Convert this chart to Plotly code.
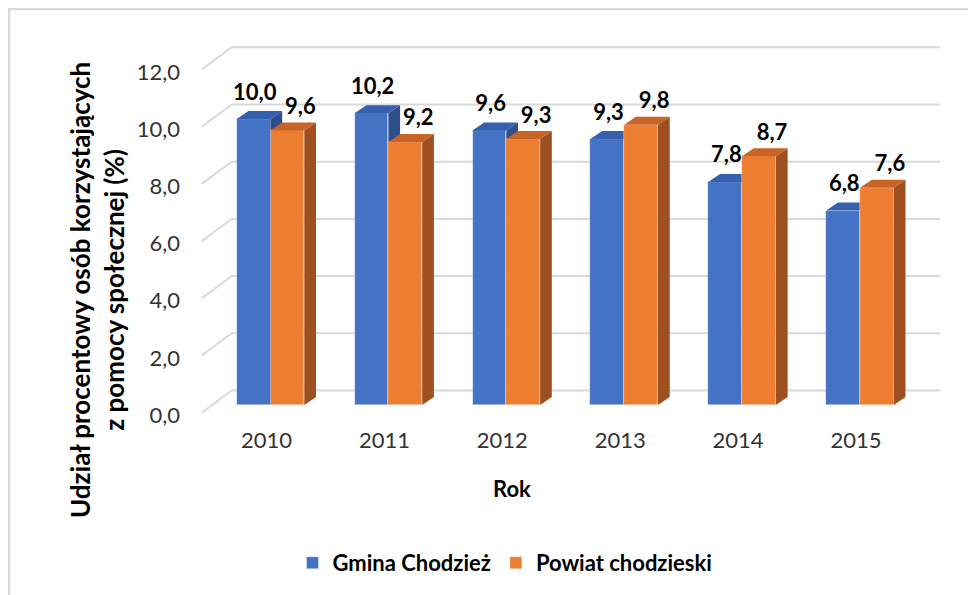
import plotly.graph_objects as go

# ---- data ----
years = ["2010", "2011", "2012", "2013", "2014", "2015"]
gmina = [10.0, 10.2, 9.6, 9.3, 7.8, 6.8]
powiat = [9.6, 9.2, 9.3, 9.8, 8.7, 7.6]
y_ticks = [0, 2, 4, 6, 8, 10, 12]
series_names = ["Gmina Chodzież", "Powiat chodzieski"]

# ---- style / geometry constants (screen-pixel derived) ----
PAGE_OFF = 8                                 # default body margin of the html page
W, H = 976 - PAGE_OFF, 595 - PAGE_OFF


def fx(px):  # screen x -> figure pixel x
    return px - PAGE_OFF


def fy(py):  # screen y -> figure pixel y
    return py - PAGE_OFF


PL, PR, PT, PB = fx(190), fx(960), fy(30), fy(425)   # plot area in figure pixels
PX_X = 117.9                                 # pixels per category
PX_Y = 28.6                                  # pixels per value unit
X0_PX, Y0_PX = fx(270.5), fy(405)            # category 0 centre / value 0 (bar front plane)
BAR_W = 0.2867
DEPTH_DX, DEPTH_DY = 11.7 / PX_X, 8 / PX_Y   # bar depth offset
WALL_FX, WALL_FY = (fx(201.7) - X0_PX) / PX_X, (Y0_PX - fy(412.7)) / PX_Y
WALL_BX, WALL_BY = (fx(231.7) - X0_PX) / PX_X, (Y0_PX - fy(390.5)) / PX_Y
WALL_EX = (fx(940) - X0_PX) / PX_X

xr = [(PL - X0_PX) / PX_X, (PR - X0_PX) / PX_X]
yr = [(Y0_PX - PB) / PX_Y, (Y0_PX - PT) / PX_Y]


def paper_x(px):
    return (fx(px) - PL) / (PR - PL)


def paper_y(py):
    return (PB - fy(py)) / (PB - PT)


BLUE, BLUE_TOP, BLUE_SIDE = "#4472C4", "#3560AE", "#2E4F8C"
ORANGE, ORANGE_TOP, ORANGE_SIDE = "#ED7D31", "#C86426", "#9E5020"
GRID = "#D9D9D9"
FONT = "Lato"

fig = go.Figure()

# gridlines (back wall + left wall diagonals)
gx, gy = [], []
for v in y_ticks:
    gx += [WALL_FX, WALL_BX, WALL_EX, None]
    gy += [v + WALL_FY, v + WALL_BY, v + WALL_BY, None]
fig.add_trace(go.Scatter(x=gx, y=gy, mode="lines", line=dict(color=GRID, width=2),
                         showlegend=False, hoverinfo="skip", xaxis="x", yaxis="y"))


def add_series(values, offset, front, top, side, name, ax, ay):
    xs = [i + offset for i in range(len(values))]
    fig.add_trace(go.Bar(x=xs, y=values, width=BAR_W, name=name,
                         marker=dict(color=front, line=dict(color="rgba(255,255,255,0.6)", width=0.6)),
                         xaxis=ax, yaxis=ay, showlegend=True))
    sx, sy, tx, ty = [], [], [], []
    for xc, v in zip(xs, values):
        xl, xrr = xc - BAR_W / 2, xc + BAR_W / 2
        sx += [xrr, xrr + DEPTH_DX, xrr + DEPTH_DX, xrr, xrr, None]
        sy += [0, DEPTH_DY, v + DEPTH_DY, v, 0, None]
        tx += [xl, xl + DEPTH_DX, xrr + DEPTH_DX, xrr, xl, None]
        ty += [v, v + DEPTH_DY, v + DEPTH_DY, v, v, None]
    fig.add_trace(go.Scatter(x=sx, y=sy, fill="toself", fillcolor=side, mode="lines",
                             line=dict(width=0), showlegend=False, hoverinfo="skip",
                             xaxis=ax, yaxis=ay))
    fig.add_trace(go.Scatter(x=tx, y=ty, fill="toself", fillcolor=top, mode="lines",
                             line=dict(width=0), showlegend=False, hoverinfo="skip",
                             xaxis=ax, yaxis=ay))
    return xs


bx = add_series(gmina, -BAR_W / 2, BLUE, BLUE_TOP, BLUE_SIDE, series_names[0], "x2", "y2")
ox = add_series(powiat, BAR_W / 2, ORANGE, ORANGE_TOP, ORANGE_SIDE, series_names[1], "x3", "y3")

fmt = lambda v: f"{v:.1f}".replace(".", ",")
fig.add_trace(go.Scatter(
    x=[x + 0.01 for x in bx] + [x + 0.11 for x in ox],
    y=[v + DEPTH_DY + 17 / PX_Y for v in gmina] + [v + DEPTH_DY + 14 / PX_Y for v in powiat],
    text=[fmt(v) for v in gmina] + [fmt(v) for v in powiat],
    mode="text", textposition="middle center",
    textfont=dict(family=FONT, size=22, color="#000000", weight="bold"),
    showlegend=False, hoverinfo="skip", xaxis="x3", yaxis="y3"))

hidden = dict(range=xr, visible=False, fixedrange=True)
fig.update_layout(
    width=W, height=H,
    margin=dict(l=PL, r=W - PR, t=PT, b=H - PB, autoexpand=False),
    paper_bgcolor="white", plot_bgcolor="rgba(0,0,0,0)",
    barmode="overlay", bargap=0,
    font=dict(family=FONT, size=22, color="#333333"),
    xaxis=dict(range=xr, tickmode="array", tickvals=list(range(len(years))), ticktext=years,
               showgrid=False, zeroline=False, showline=False, ticks="", fixedrange=True,
               ticklabelshift=-4, tickfont=dict(family=FONT, size=22, color="#333333")),
    yaxis=dict(range=yr, tickmode="array", tickvals=y_ticks, ticktext=[fmt(v) for v in y_ticks],
               showgrid=False, zeroline=False, showline=False, ticks="", fixedrange=True,
               ticklabelshift=10, ticklabelstandoff=9,
               tickfont=dict(family=FONT, size=22, color="#333333")),
    xaxis2=dict(hidden, overlaying="x"),
    yaxis2=dict(range=yr, visible=False, fixedrange=True, overlaying="y"),
    xaxis3=dict(hidden, overlaying="x"),
    yaxis3=dict(range=yr, visible=False, fixedrange=True, overlaying="y"),
    legend=dict(orientation="h", x=paper_x(505), y=paper_y(563),
                xanchor="center", yanchor="middle",
                font=dict(family=FONT, size=22, color="#000000", weight="bold"),
                bgcolor="rgba(0,0,0,0)"),
    annotations=[
        dict(text="Udział procentowy osób korzystających<br>z pomocy społecznej (%)",
             textangle=-90, xref="paper", yref="paper",
             x=paper_x(97), y=paper_y(290),
             xanchor="center", yanchor="middle", showarrow=False,
             font=dict(family=FONT, size=26, color="#000000", weight="bold")),
        dict(text="Rok", xref="paper", yref="paper",
             x=paper_x(512), y=paper_y(488),
             xanchor="center", yanchor="middle", showarrow=False,
             font=dict(family=FONT, size=22, color="#000000", weight="bold")),
    ],
    shapes=[dict(type="rect", xref="paper", yref="paper",
                 x0=paper_x(9), x1=paper_x(1000),
                 y0=paper_y(620), y1=paper_y(9),
                 line=dict(color=GRID, width=2.5), layer="below")],
)

fig.write_html("out.html")
